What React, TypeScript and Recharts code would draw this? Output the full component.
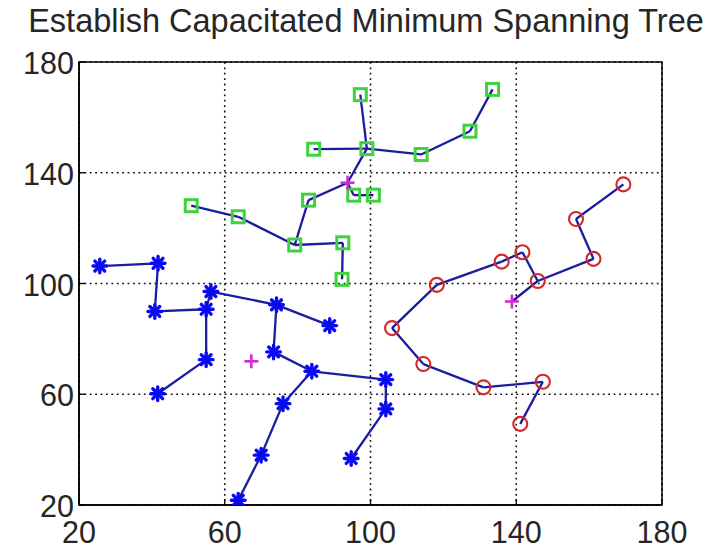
import React from 'react';
import {
  ScatterChart,
  Scatter,
  XAxis,
  YAxis,
  CartesianGrid,
  ReferenceLine,
  ReferenceArea,
} from 'recharts';

const TITLE = 'Establish Capacitated Minimum Spanning Tree';
const axisTicks = [20, 60, 100, 140, 180];

// Tree 1 (blue asterisks) – center is drawn but not linked
const blueX = [25.7, 41.7, 40.8, 54.9, 56.2, 54.9, 41.6, 74.2, 88.8, 73.4, 83.9, 104.2, 104.2, 94.7, 76.0, 70.0, 63.7];
const blueY = [106.3, 107.3, 89.9, 90.7, 97.1, 72.5, 60.2, 92.3, 84.8, 75.3, 68.3, 65.3, 54.7, 36.8, 56.6, 38.0, 21.7];
const blueCenter = [67.3, 71.9];
const blueEdges = [
  [0, 1], [1, 2], [2, 3], [3, 4], [3, 5], [5, 6], [4, 7], [7, 8],
  [7, 9], [9, 10], [10, 11], [11, 12], [12, 13], [10, 14], [14, 15], [15, 16],
];

// Tree 2 (green squares) – last index in edges refers to the center
const greenX = [97.2, 99.0, 84.4, 95.4, 100.8, 83.0, 79.2, 92.4, 92.2, 63.7, 50.8, 113.9, 127.3, 133.5];
const greenY = [168.2, 148.7, 148.5, 131.9, 131.9, 130.1, 113.9, 114.7, 101.5, 124.1, 128.1, 146.6, 155.0, 170.1];
const greenCenter = [93.7, 136.4];
const greenEdges = [
  [0, 1], [2, 1], [1, 11], [11, 12], [12, 13], [1, 14], [14, 5],
  [14, 3], [3, 4], [5, 6], [6, 9], [9, 10], [6, 7], [7, 8],
];

// Tree 3 (red circles) – last index in edges refers to the center
const redX = [169.4, 156.4, 161.2, 145.9, 141.7, 136.0, 118.2, 105.9, 114.5, 131.0, 147.3, 141.1];
const redY = [135.8, 123.3, 108.9, 100.9, 111.3, 107.9, 99.5, 83.9, 70.9, 62.5, 64.5, 49.3];
const redCenter = [138.8, 93.5];
const redEdges = [
  [0, 1], [1, 2], [2, 3], [3, 4], [4, 5], [5, 6], [6, 7],
  [7, 8], [8, 9], [9, 10], [10, 11], [3, 12],
];

type Pt = { x: number; y: number };

const toPoints = (xs: number[], ys: number[]): Pt[] => xs.map((x, i) => ({ x, y: ys[i] }));
const withCenter = (pts: Pt[], c: number[]): Pt[] => [...pts, { x: c[0], y: c[1] }];

const bluePts = toPoints(blueX, blueY);
const greenPts = toPoints(greenX, greenY);
const redPts = toPoints(redX, redY);
const centers: Pt[] = [blueCenter, greenCenter, redCenter].map((c) => ({ x: c[0], y: c[1] }));

const blueLinkPts = withCenter(bluePts, blueCenter);
const greenLinkPts = withCenter(greenPts, greenCenter);
const redLinkPts = withCenter(redPts, redCenter);

const LINE_COLOR = '#1c1c9e';
const FONT = '"Liberation Sans", Arial, Helvetica, sans-serif';
const TEXT_COLOR = '#262626';

const Asterisk = (props: any) => {
  const { cx, cy } = props;
  if (cx == null || cy == null) return null;
  const r = 6.8;
  const d = r * 0.72;
  return (
    <g stroke="#0a0af0" strokeWidth={3.4} strokeLinecap="round">
      <line x1={cx - r} y1={cy} x2={cx + r} y2={cy} />
      <line x1={cx} y1={cy - r} x2={cx} y2={cy + r} />
      <line x1={cx - d} y1={cy - d} x2={cx + d} y2={cy + d} />
      <line x1={cx - d} y1={cy + d} x2={cx + d} y2={cy - d} />
    </g>
  );
};

const Square = (props: any) => {
  const { cx, cy } = props;
  if (cx == null || cy == null) return null;
  const s = 12;
  return <rect x={cx - s / 2} y={cy - s / 2} width={s} height={s} fill="none" stroke="#3fd23f" strokeWidth={3} />;
};

const Ring = (props: any) => {
  const { cx, cy } = props;
  if (cx == null || cy == null) return null;
  return <circle cx={cx} cy={cy} r={7} fill="none" stroke="#d02a2a" strokeWidth={2.1} />;
};

const Plus = (props: any) => {
  const { cx, cy } = props;
  if (cx == null || cy == null) return null;
  const r = 7;
  return (
    <g stroke="#d42ad4" strokeWidth={2.6}>
      <line x1={cx - r} y1={cy} x2={cx + r} y2={cy} />
      <line x1={cx} y1={cy - r} x2={cx} y2={cy + r} />
    </g>
  );
};

const XTick = (props: any) => {
  const { x, y, payload } = props;
  return (
    <g>
      <line x1={x} y1={y} x2={x} y2={y - 6} stroke="#000" strokeWidth={1.3} />
      <text x={x} y={y + 38} textAnchor="middle" fontFamily={FONT} fontSize={30.5} fill={TEXT_COLOR}>
        {payload.value}
      </text>
    </g>
  );
};

const YTick = (props: any) => {
  const { x, y, payload } = props;
  return (
    <g>
      <line x1={x} y1={y} x2={x + 6} y2={y} stroke="#000" strokeWidth={1.3} />
      <text x={x - 5} y={y + 12} textAnchor="end" fontFamily={FONT} fontSize={30.5} fill={TEXT_COLOR}>
        {payload.value}
      </text>
    </g>
  );
};

const edgeLines = (pts: Pt[], edges: number[][], key: string) =>
  edges.map(([a, b], i) => (
    <ReferenceLine
      key={`${key}-${i}`}
      segment={[pts[a], pts[b]]}
      stroke={LINE_COLOR}
      strokeWidth={2.3}
      ifOverflow="visible"
    />
  ));

export default function App() {
  return (
    <div style={{ position: 'absolute', left: 0, top: 0, width: 720, height: 548, background: '#fff' }}>
      <div
        style={{
          position: 'absolute',
          left: 6,
          top: 5,
          width: 720,
          textAlign: 'center',
          fontFamily: FONT,
          fontSize: 32.5,
          lineHeight: '32px',
          color: TEXT_COLOR,
          whiteSpace: 'nowrap',
        }}
      >
        {TITLE}
      </div>
      <ScatterChart width={720} height={548} margin={{ top: 62, right: 58, bottom: 0, left: 0 }}>
        <CartesianGrid stroke="#111" strokeWidth={1.6} strokeDasharray="1.8 3.6" />
        <XAxis
          type="number"
          dataKey="x"
          domain={[20, 180]}
          ticks={axisTicks}
          allowDataOverflow
          height={43}
          tickSize={0}
          tickMargin={0}
          tickLine={false}
          axisLine={{ stroke: '#000', strokeWidth: 1.5 }}
          tick={<XTick />}
          interval={0}
        />
        <YAxis
          type="number"
          dataKey="y"
          domain={[20, 180]}
          ticks={axisTicks}
          allowDataOverflow
          width={79}
          tickSize={0}
          tickMargin={0}
          tickLine={false}
          axisLine={{ stroke: '#000', strokeWidth: 1.5 }}
          tick={<YTick />}
          interval={0}
        />
        <ReferenceArea x1={20} x2={180} y1={20} y2={180} fill="none" stroke="#000" strokeWidth={1.5} />
        {edgeLines(blueLinkPts, blueEdges, 'b')}
        {edgeLines(greenLinkPts, greenEdges, 'g')}
        {edgeLines(redLinkPts, redEdges, 'r')}
        <Scatter data={bluePts} shape={<Asterisk />} isAnimationActive={false} />
        <Scatter data={greenPts} shape={<Square />} isAnimationActive={false} />
        <Scatter data={redPts} shape={<Ring />} isAnimationActive={false} />
        <Scatter data={centers} shape={<Plus />} isAnimationActive={false} />
      </ScatterChart>
    </div>
  );
}
